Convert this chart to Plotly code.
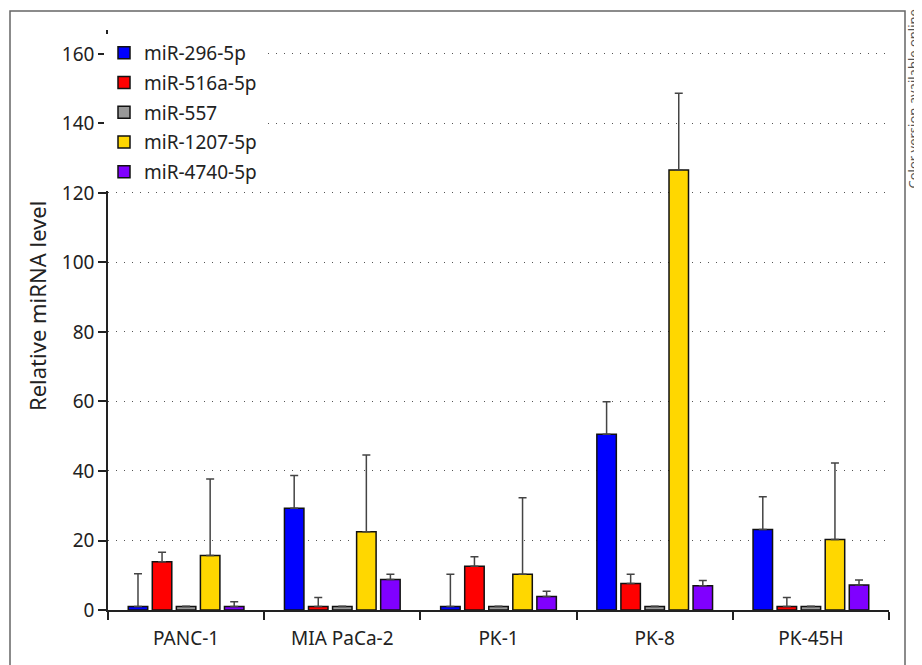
import plotly.graph_objects as go

categories = ["PANC-1", "MIA PaCa-2", "PK-1", "PK-8", "PK-45H"]
series_names = ["miR-296-5p", "miR-516a-5p", "miR-557", "miR-1207-5p", "miR-4740-5p"]
miR_296 = [1.0, 29.3, 1.0, 50.6, 23.2]
miR_296_err = [9.4, 9.4, 9.3, 9.3, 9.4]
miR_516a = [13.9, 1.0, 12.6, 7.6, 1.0]
miR_516a_err = [2.7, 2.6, 2.7, 2.7, 2.6]
miR_557 = [1.0, 1.0, 1.0, 1.0, 1.0]
miR_557_err = [0.1, 0.1, 0.1, 0.1, 0.1]
miR_1207 = [15.7, 22.5, 10.3, 126.6, 20.3]
miR_1207_err = [22.0, 22.1, 22.0, 22.1, 22.0]
miR_4740 = [1.0, 8.8, 3.9, 7.0, 7.2]
miR_4740_err = [1.4, 1.5, 1.5, 1.5, 1.4]
y_ticks = [0, 20, 40, 60, 80, 100, 120, 140, 160]

values = [miR_296, miR_516a, miR_557, miR_1207, miR_4740]
errors = [miR_296_err, miR_516a_err, miR_557_err, miR_1207_err, miR_4740_err]
colors = ["#0000FF", "#FF0000", "#999999", "#FFD700", "#8000FF"]

FONT = "Noto Sans"
fig = go.Figure()
for name, vals, errs, col in zip(series_names, values, errors, colors):
    fig.add_trace(go.Bar(
        name=name, x=categories, y=vals, legendgroup=name,
        marker=dict(color=col, line=dict(color="#111111", width=1.5)),
        error_y=dict(type="data", array=errs, arrayminus=[0] * len(errs),
                     symmetric=False, color="#444444", thickness=1.5, width=4),
    ))

# page has an 8px body margin; size the figure so nothing overflows
OFF = 8
PAGE_W, PAGE_H = 922, 665
W, H = PAGE_W - OFF, PAGE_H - OFF
PL, PR, PT, PB = 108, 889, 30, 610  # plot area in page pixels
L = PL - OFF
T = PT - OFF
R = W - (PR - OFF)
B = H - (PB - OFF)
pw, ph = PR - PL, PB - PT

def px(x):
    return (x - PL) / pw

def py(y):
    return (PB - y) / ph

fig.update_layout(
    width=W, height=H,
    margin=dict(l=L, r=R, t=T, b=B, autoexpand=False),
    paper_bgcolor="white", plot_bgcolor="white",
    barmode="group", bargap=0.23, bargroupgap=0.19,
    font=dict(family=FONT, size=19, color="#222222"),
    showlegend=True,
    legend=dict(x=px(104), y=py(34), xanchor="left", yanchor="top",
                bgcolor="white", font=dict(size=19, family=FONT),
                itemwidth=30, tracegroupgap=2),
    xaxis=dict(showline=True, linecolor="#222222", linewidth=1.5,
               ticks="outside", tickson="boundaries", ticklen=8,
               tickcolor="#222222", tickwidth=1.5, ticklabelstandoff=10,
               tickfont=dict(size=19, family=FONT), showgrid=False),
    yaxis=dict(range=[0, 166.9], tickvals=y_ticks, showline=True,
               linecolor="#222222", linewidth=1.5, ticks="outside",
               ticklen=8, tickcolor="#222222", tickwidth=1.5,
               tickfont=dict(size=19, family=FONT),
               showgrid=True, gridcolor="#555555", gridwidth=1,
               griddash="1px,7px", zeroline=False),
    shapes=[dict(type="rect", xref="paper", yref="paper",
                 x0=px(10), x1=px(905), y0=py(11), y1=py(700),
                 line=dict(color="#666666", width=1.5), layer="below")],
    annotations=[
        dict(text="Relative miRNA level", xref="paper", yref="paper",
             x=px(37), y=py(306), xanchor="center", yanchor="middle",
             textangle=-90, showarrow=False,
             font=dict(size=22, family=FONT, color="#222222")),
        dict(text="Color version available online", xref="paper", yref="paper",
             x=px(913), y=py(9), xanchor="center", yanchor="top",
             textangle=-90, showarrow=False, borderpad=0,
             font=dict(size=13, family=FONT, color="#555555")),
    ],
)

fig.write_html("out.html")
